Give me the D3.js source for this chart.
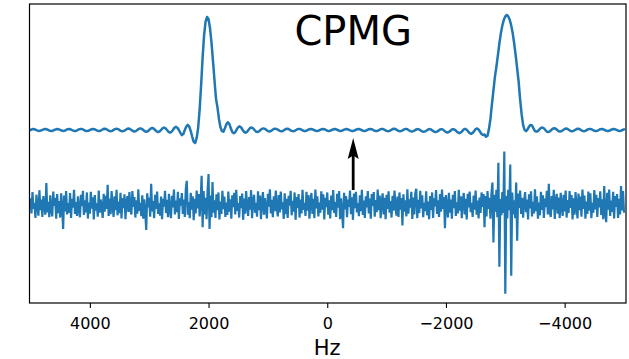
<!DOCTYPE html>
<html>
<head>
<meta charset="utf-8">
<script src="https://cdn.jsdelivr.net/npm/d3@7/dist/d3.min.js"></script>
<style>
  html, body { margin: 0; padding: 0; background: #fff; }
  svg { display: block; }
  text { font-family: "DejaVu Sans", sans-serif; }
</style>
</head>
<body>
<svg id="chart" width="629" height="359"></svg>
<script>
// ---- DATA ----
// Frequency axis (Hz): top spectrum sampled every 25 Hz from 5000 to -5000
const specStartHz = 5000;
const specStepHz = -25;
// Top spectrum (CPMG), units of 1/1000 of the main peak height
const specUnit = 1000;
const cpmgSpectrum = [
  0,6,9,5,-1,-6,-8,-5, 1,6,8,6,0,-7,-9,-6, 0,5,8,6,1,-5,-8,-6, 0,7,9,6,-1,-6,-9,-6,
  1,7,10,7,0,-7,-10,-7, 0,6,9,7,1,-6,-10,-7, 0,8,11,8,0,-8,-11,-8, 1,8,12,8,-1,-8,-12,-8,
  0,9,13,9,0,-9,-13,-10, 0,10,15,10,0,-11,-16,-11, 0,12,18,13,0,-13,-19,-13, 0,15,22,15,0,-16,-23,-16,
  0,20,28,20,0,-25,-45,-35, 0,30,45,30,-10,-60,-105,-115,
  -70,20,180,400,640,840,960,1000, 980,900,770,610,440,280,200,100,
  25,-10,-15,15,50,68,55,15, -18,-28,-20,5,25,32,22,0, -18,-24,-16,2,18,22,15,0,
  -14,-18,-12,
  0,10,14,10,0,-10,-13,-9,
  1,9,12,8,0,-8,-12,-9, 0,8,11,8,-1,-8,-11,-8, 0,7,10,7,0,-7,-10,-7, 1,7,9,6,0,-6,-9,-7,
  0,6,9,7,1,-6,-9,-6, 0,6,8,6,0,-6,-8,-6, 1,6,8,5,-1,-6,-8,-6, 0,6,9,6,0,-6,-9,-6,
  0,7,9,7,0,-7,-10,-7, 0,7,10,7,-1,-8,-11,-8, 0,8,11,8,0,-8,-12,-8, -1,7,10,7,-2,-10,-13,-10,
  -3,5,8,4,-4,-12,-15,-12, -4,5,8,4,-6,-14,-18,-14, -6,4,8,3,-8,-18,-22,-17, -8,4,8,2,-10,-22,-28,-22,
  -10,5,10,2,-14,-28,-34,-26,
  -10,8,14,5,-15,-35,-45,
  -40,-60,-50,10,100,230,350,470, 560,660,765,855,925,975,1005,1018,
  1005,975,925,855,765,660,545,425, 270,140,45,0,-10,5,30,45,
  40,15,-10,
  -15,-10,5,18,22,15,0,-14,-18,-12,0,12,16,11,0,-11,-14,-10,
  0,9,13,9,0,-9,-12,-8, 0,8,11,8,0,-8,-11,-8, 1,7,10,7,0,-7,-10,-7, 0,7,9,6,0,-6,-9,-7,
  0,6,9,6,1,-6,-8,-6,
  0,6
];

// Bottom trace (noisy signal), 601 samples from 5000 to -5000 Hz, units of 1/800 peak height
const noiseStartHz = 5000;
const noiseEndHz = -5000;
const noiseUnit = 800;
const noisySignal = [
  45,-62,88,-30,12,-95,70,-15,-78,102,-40,35,-88,60,-5,-72,152,-55,20,-90,
  66,-38,-84,92,-10,48,-100,75,-60,25,-92,80,-20,-172,64,-48,95,-70,10,-58,
  82,-95,40,-22,105,-66,18,-80,58,-35,-90,70,-12,98,-74,30,-55,86,-99,14,
  -64,90,-28,52,-106,68,-42,8,-86,100,-58,36,-18,-94,77,-50,62,-30,140,-80,
  42,-68,96,-12,-88,58,-40,104,-76,22,-60,84,-98,46,-26,72,-104,16,60,-52,
  88,-34,-70,96,-16,54,-92,30,-64,108,-44,12,-82,66,-100,38,-58,-180,80,-20,
  50,-86,148,-48,24,-96,70,-30,92,-66,8,-78,56,-104,40,-14,98,-60,34,-90,
  76,-42,-96,62,-20,106,-70,28,-54,90,-102,44,-8,82,-66,36,-88,110,168,-72,
  18,-96,84,-36,58,-110,40,-62,100,-28,74,-84,30,204,-160,96,-70,48,-104,96,
  216,-172,64,-90,160,-58,30,-94,72,-40,86,-106,22,-66,98,-32,56,-88,14,-74,
  92,-50,38,-100,66,-18,84,-70,104,-44,10,-92,60,-26,78,-108,42,-64,96,-12,
  -80,54,-36,102,-96,28,70,-58,12,-86,94,-40,64,-104,20,88,-72,46,-30,-98,
  76,-14,108,-62,34,-90,58,-46,100,-20,-84,68,-56,92,-34,16,-102,80,-68,40,
  -94,62,-8,98,-76,26,-50,86,-108,54,-24,74,-92,36,-62,104,-38,12,-80,90,
  -44,68,-100,20,82,-66,40,-96,106,-28,58,-84,14,-58,94,-36,72,-106,48,-18,
  86,-72,30,-98,64,-40,102,-60,18,-88,76,-22,96,-104,44,-52,-168,84,-34,60,
  -90,36,-16,100,-68,52,-108,78,-26,90,-56,10,-82,66,-46,104,-74,28,-94,58,
  -20,96,-62,42,-100,74,-10,88,-86,32,-54,106,-40,64,-96,18,80,-70,48,-104,
  70,-30,94,-58,24,-92,62,-44,100,-16,-78,56,-88,86,-36,46,-148,72,-50,30,
  -84,108,-64,38,-22,90,-102,50,-70,80,112,-96,34,-60,98,-28,66,-90,12,-46,
  94,-76,22,-104,60,-38,86,-94,44,-12,102,-66,30,-88,74,-50,106,-30,54,-168,
  68,-14,-92,84,-58,36,-100,70,-26,96,-80,16,-62,104,-44,58,-96,24,82,-70,
  40,-106,76,-20,92,-54,12,-88,64,-36,100,-72,28,-98,50,-60,86,-16,74,-160,
  60,-84,96,-30,48,-100,80,156,-269,70,-50,104,-90,296,-440,40,-76,88,-60,376,
  -632,62,-98,104,-40,284,-504,86,-70,30,-96,156,-256,78,-24,100,-66,48,-92,16,
  88,-54,36,-106,72,-28,94,-84,20,-62,108,-46,58,-100,14,-76,90,-38,66,-94,
  42,-18,98,-70,148,-56,-88,60,-34,104,-102,26,76,-64,50,-96,84,-10,-80,70,
  -48,100,-92,32,-60,96,-24,68,-106,44,-72,88,-14,-98,78,-40,56,-86,106,-30,
  64,-100,22,-66,92,-44,80,-96,12,-58,102,-34,70,-88,46,-20,94,-74,38,-104,
  132,-62,-124,84,-36,106,-80,28,-52,90,-98,60,-16,74,-94,40,-70,132,-42,96,
  -58
];

// Vertical offsets of the traces (in peak-height units)
const cpmgOffset = 0;
const noiseOffset = -0.66;

// x ticks
const xTicks = [4000, 2000, 0, -2000, -4000];
const xLabel = "Hz";
const titleText = "CPMG";
// annotation arrow (Hz, from value, to value) and title position (Hz, value)
const arrowHz = -437;
const arrowFrom = -0.531;
const arrowTo = -0.071;
const titleHz = -437;
const titleVal = 0.752;

// ---- CHART ----
const svg = d3.select("#chart");
const frame = { left: 29.5, right: 626, top: 4, bottom: 303 };

const x = d3.scaleLinear().domain([5000, -5000]).range([30.5, 624]);
const y = d3.scaleLinear().domain([-1.531, 1.115]).range([frame.bottom, frame.top]);

const blue = "#1f77b4";

const specData = cpmgSpectrum.map((v, i) => ({ hz: specStartHz + i * specStepHz, v: v / specUnit + cpmgOffset }));
const nStep = (noiseEndHz - noiseStartHz) / (noisySignal.length - 1);
const noiseData = noisySignal.map((v, i) => ({ hz: noiseStartHz + i * nStep, v: v / noiseUnit + noiseOffset }));

const line = d3.line().x(d => x(d.hz)).y(d => y(d.v));

svg.append("defs").append("clipPath").attr("id", "clip")
  .append("rect").attr("x", frame.left).attr("y", frame.top)
  .attr("width", frame.right - frame.left).attr("height", frame.bottom - frame.top);

const plot = svg.append("g").attr("clip-path", "url(#clip)");

plot.append("path").datum(noiseData)
  .attr("d", line).attr("fill", "none").attr("stroke", blue)
  .attr("stroke-width", 2.2).attr("stroke-linejoin", "miter").attr("stroke-miterlimit", 2);

plot.append("path").datum(specData)
  .attr("d", line).attr("fill", "none").attr("stroke", blue)
  .attr("stroke-width", 2.5).attr("stroke-linejoin", "round").attr("stroke-linecap", "round");

// arrow
const ax = x(arrowHz), ay0 = y(arrowFrom), ay1 = y(arrowTo);
svg.append("line").attr("x1", ax).attr("x2", ax).attr("y1", ay0).attr("y2", ay1 + 16)
  .attr("stroke", "black").attr("stroke-width", 2.8);
svg.append("path")
  .attr("d", `M${ax},${ay1} L${ax - 5.5},${ay1 + 21} L${ax},${ay1 + 17.5} L${ax + 5.5},${ay1 + 21} Z`)
  .attr("fill", "black");

// title
svg.append("text").attr("x", x(titleHz)).attr("y", y(titleVal))
  .attr("text-anchor", "middle").attr("font-size", 40).attr("fill", "black").text(titleText);

// frame
svg.append("rect").attr("x", frame.left).attr("y", frame.top)
  .attr("width", frame.right - frame.left).attr("height", frame.bottom - frame.top)
  .attr("fill", "none").attr("stroke", "black").attr("stroke-width", 1.2);

// x axis
const axis = d3.axisBottom(x).tickValues(xTicks).tickSize(5).tickPadding(9.5)
  .tickFormat(d3.format("d"));
const gx = svg.append("g").attr("transform", `translate(0,${frame.bottom})`).call(axis);
gx.select(".domain").remove();
gx.selectAll(".tick line").attr("stroke", "black").attr("stroke-width", 1.1);
gx.selectAll(".tick text").attr("font-size", 16).attr("fill", "black")
  .attr("font-family", "DejaVu Sans, sans-serif");

svg.append("text").attr("x", x(0)).attr("y", 355)
  .attr("text-anchor", "middle").attr("font-size", 21).attr("fill", "black").text(xLabel);
</script>
</body>
</html>
